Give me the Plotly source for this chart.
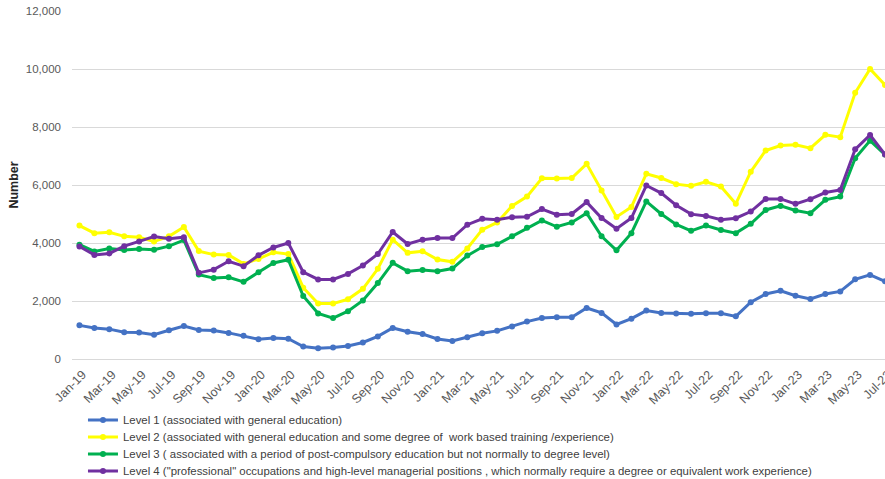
import plotly.graph_objects as go

months = ["Jan-19","Feb-19","Mar-19","Apr-19","May-19","Jun-19","Jul-19","Aug-19","Sep-19","Oct-19","Nov-19","Dec-19",
          "Jan-20","Feb-20","Mar-20","Apr-20","May-20","Jun-20","Jul-20","Aug-20","Sep-20","Oct-20","Nov-20","Dec-20",
          "Jan-21","Feb-21","Mar-21","Apr-21","May-21","Jun-21","Jul-21","Aug-21","Sep-21","Oct-21","Nov-21","Dec-21",
          "Jan-22","Feb-22","Mar-22","Apr-22","May-22","Jun-22","Jul-22","Aug-22","Sep-22","Oct-22","Nov-22","Dec-22",
          "Jan-23","Feb-23","Mar-23","Apr-23","May-23","Jun-23","Jul-23"]

level1 = [1160,1070,1030,920,910,840,990,1140,1000,980,900,800,
          680,720,700,430,370,400,450,570,780,1070,940,860,
          690,620,750,890,970,1120,1290,1410,1440,1440,1760,1590,
          1190,1390,1670,1590,1570,1560,1580,1580,1470,1960,2240,2350,
          2180,2070,2240,2330,2750,2900,2680]

level2 = [4600,4340,4370,4230,4200,4050,4230,4550,3720,3600,3590,3280,
          3450,3680,3620,2460,1910,1910,2060,2420,3110,4115,3660,3715,
          3430,3350,3810,4460,4710,5280,5600,6230,6220,6240,6730,5810,
          4900,5240,6390,6240,6030,5970,6110,5950,5350,6460,7190,7360,
          7390,7270,7730,7650,9180,10000,9450]

level3 = [3940,3710,3810,3760,3790,3770,3890,4100,2910,2790,2820,2660,
          2990,3310,3425,2170,1570,1410,1650,2020,2620,3315,3030,3065,
          3030,3120,3565,3860,3955,4230,4525,4780,4560,4710,5030,4230,
          3750,4340,5435,5000,4640,4420,4600,4450,4340,4660,5140,5280,
          5120,5030,5490,5600,6920,7530,7050]

level4 = [3880,3590,3640,3890,4055,4220,4145,4200,2970,3080,3370,3200,
          3575,3845,4000,2995,2745,2745,2935,3225,3620,4380,3965,4115,
          4170,4170,4630,4835,4800,4890,4905,5170,4975,5000,5410,4860,
          4495,4860,5985,5720,5305,4995,4935,4800,4855,5085,5520,5520,
          5350,5510,5740,5830,7230,7725,7050]

names = [
    "Level 1 (associated with general education)",
    "Level 2 (associated with general education and some degree of  work based training /experience)",
    "Level 3 ( associated with a period of post-compulsory education but not normally to degree level)",
    "Level 4 (\"professional\" occupations and high-level managerial positions , which normally require a degree or equivalent work experience)",
]
colors = ["#4472C4", "#FFFF00", "#00B050", "#7030A0"]
series = [level1, level2, level3, level4]
legend_ids = ["legend", "legend2", "legend3", "legend4"]

fig = go.Figure()
for name, vals, col, lg in zip(names, series, colors, legend_ids):
    fig.add_trace(go.Scatter(
        x=months, y=vals, name=name, mode="lines+markers",
        line=dict(color=col, width=3),
        marker=dict(color=col, size=6),
        legend=lg,
    ))

W, H = 885, 479
plot_top, plot_bottom = 11, 359
plot_h = plot_bottom - plot_top
legend_rows = [420, 437, 454, 471]

def legend_cfg(row_y):
    return dict(
        orientation="v", x=0.0135, xanchor="left",
        y=(plot_bottom - row_y) / plot_h, yanchor="middle",
        font=dict(size=11.4, color="#404040"),
        bgcolor="rgba(0,0,0,0)",
    )

layout_legends = {lg: legend_cfg(ry) for lg, ry in zip(legend_ids, legend_rows)}

fig.update_layout(
    width=W, height=H,
    margin=dict(l=72, r=0, t=plot_top, b=H - plot_bottom, autoexpand=False),
    paper_bgcolor="white", plot_bgcolor="white",
    font=dict(family="Liberation Sans, Arial, sans-serif", size=11, color="#595959"),
    showlegend=True,
    hovermode=False,
    xaxis=dict(
        type="category", range=[-0.5, 54],
        tickvals=months[::2], ticktext=months[::2],
        tickangle=-45, tickfont=dict(size=12.5, color="#595959"),
        ticklabelshift=3, ticklabelstandoff=5,
        showgrid=False, showline=False, zeroline=False, ticks="",
    ),
    yaxis=dict(
        range=[0, 12000], dtick=2000, tickformat=",",
        showgrid=True, gridcolor="#D9D9D9", gridwidth=1,
        zeroline=True, zerolinecolor="#D9D9D9", zerolinewidth=1,
        showline=False, ticks="", ticklabelstandoff=10,
        tickfont=dict(size=11.5, color="#595959"),
        title=dict(text="<b>Number</b>", font=dict(size=12.5, color="#262626"), standoff=4),
    ),
    **layout_legends,
)

fig.write_html(
    "out.html",
    config={"displayModeBar": False},
    post_script="document.body.style.margin='0';document.body.style.overflow='hidden';",
)
